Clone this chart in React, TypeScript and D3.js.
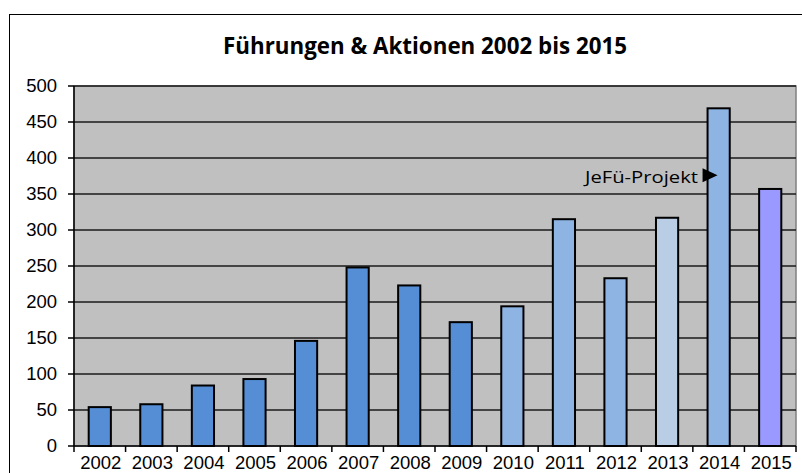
import React from "react";
import * as d3 from "d3";

const years = ["2002","2003","2004","2005","2006","2007","2008","2009","2010","2011","2012","2013","2014","2015"];
const values = [54, 58, 84, 93, 146, 248, 223, 172, 194, 315, 233, 317, 469, 357];
const barColors = ["#558ED5","#558ED5","#558ED5","#558ED5","#558ED5","#558ED5","#558ED5","#558ED5","#8EB4E3","#8EB4E3","#8EB4E3","#B9CDE5","#8EB4E3","#9999FF"];
const yTicks = [0, 50, 100, 150, 200, 250, 300, 350, 400, 450, 500];
const title = "Führungen & Aktionen 2002 bis 2015";
const annotation = "JeFü-Projekt";
const annotationValue = 376;
const annotationYear = "2014";

const W = 802, H = 473;
const left = 74, right = 796, top = 86, bottom = 446;

export default function App() {
  const x = d3.scaleBand<string>().domain(years).range([left, right]).paddingInner(0.57).paddingOuter(0.285);
  const band = d3.scaleBand<string>().domain(years).range([left, right]);
  const y = d3.scaleLinear().domain([0, 500]).range([bottom, top]);
  const ay = y(annotationValue);
  const ax = (x(annotationYear) as number) - 4;
  return (
    <svg width={W} height={H} style={{ position: "absolute", left: 0, top: 0, background: "#fff" }}>
      <rect x={9.5} y={14.5} width={800} height={480} fill="#fff" stroke="#000" strokeWidth={1} />
      <text x={425} y={54} textAnchor="middle" fontFamily="'Open Sans', sans-serif" fontWeight={700} fontSize={22.5} textLength={404} lengthAdjust="spacingAndGlyphs" fill="#000">{title}</text>
      <rect x={left} y={top} width={right - left} height={bottom - top} fill="#C0C0C0" stroke="#808080" strokeWidth={1.5} />
      {yTicks.filter(t => t > 0).map(t => (
        <line key={t} x1={left} x2={right} y1={y(t)} y2={y(t)} stroke="#1a1a1a" strokeWidth={1.5} />
      ))}
      {years.map((yr, i) => (
        <rect key={yr} x={x(yr)} y={y(values[i])} width={x.bandwidth()} height={bottom - y(values[i])} fill={barColors[i]} stroke="#000" strokeWidth={2} />
      ))}
      <line x1={left} x2={left} y1={top} y2={bottom} stroke="#000" strokeWidth={1.5} />
      <line x1={left} x2={right} y1={bottom} y2={bottom} stroke="#000" strokeWidth={1.5} />
      {yTicks.map(t => (
        <g key={t}>
          <line x1={left - 6} x2={left} y1={y(t)} y2={y(t)} stroke="#000" strokeWidth={1.5} />
          <text x={57} y={y(t)} dy="0.35em" textAnchor="end" fontFamily="'Liberation Sans', Arial, sans-serif" fontSize={18.5} fill="#000">{t}</text>
        </g>
      ))}
      {years.map(yr => (
        <line key={"t" + yr} x1={(band(yr) as number)} x2={(band(yr) as number)} y1={bottom} y2={bottom + 6} stroke="#000" strokeWidth={1.5} />
      ))}
      <line x1={right} x2={right} y1={bottom} y2={bottom + 6} stroke="#000" strokeWidth={1.5} />
      {years.map(yr => (
        <text key={"l" + yr} x={(band(yr) as number) + band.bandwidth() / 2 + 1} y={469} textAnchor="middle" fontFamily="'Liberation Sans', Arial, sans-serif" fontSize={18.5} fill="#000">{yr}</text>
      ))}
      <text x={698} y={ay + 8} textAnchor="end" fontFamily="'Open Sans', sans-serif" fontSize={17} textLength={113} lengthAdjust="spacingAndGlyphs" fill="#000">{annotation}</text>
      <path d={`M${ax - 1},${ay - 7} L${ax + 14},${ay} L${ax - 1},${ay + 7} Z`} fill="#000" />
    </svg>
  );
}
